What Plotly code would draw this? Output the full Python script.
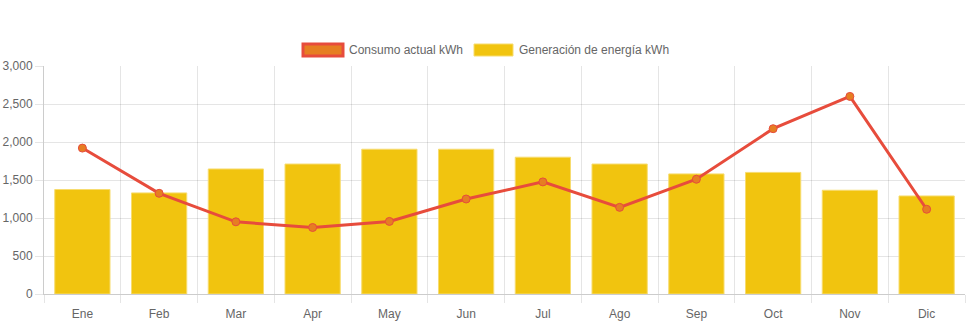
import plotly.graph_objects as go

months = ["Ene", "Feb", "Mar", "Apr", "May", "Jun", "Jul", "Ago", "Sep", "Oct", "Nov", "Dic"]
generacion = [1375, 1330, 1645, 1710, 1905, 1905, 1800, 1710, 1580, 1600, 1365, 1290]
consumo = [1920, 1325, 950, 875, 955, 1250, 1475, 1140, 1510, 2175, 2600, 1115]
label_consumo = "Consumo actual kWh"
label_generacion = "Generación de energía kWh"

W, H = 971, 323
ML, MR, MT, MB = 44, 6, 66, 29
PW, PH = W - ML - MR, H - MT - MB

def px(x):
    return (x - ML) / PW

def py(y):
    return (H - MB - y) / PH

FONT = "Liberation Sans, Arial, Helvetica, sans-serif"
GRID = "rgba(0,0,0,0.1)"

fig = go.Figure()
fig.add_trace(go.Bar(
    x=months, y=generacion, name=label_generacion, width=0.72,
    marker=dict(color="#F1C40F", line=dict(color="#F7DC6F", width=1)),
    showlegend=False,
))
fig.add_trace(go.Scatter(
    x=months, y=consumo, name=label_consumo, mode="lines+markers",
    line=dict(color="#E74C3C", width=3),
    marker=dict(size=8, color="#E67E22", line=dict(color="#E74C3C", width=1)),
    showlegend=False,
))

shapes = [
    dict(type="rect", xref="paper", yref="paper", x0=px(303), x1=px(343), y0=py(56), y1=py(44),
         fillcolor="#E67E22", line=dict(color="#E74C3C", width=3)),
    dict(type="rect", xref="paper", yref="paper", x0=px(474), x1=px(513), y0=py(56), y1=py(44),
         fillcolor="#F1C40F", line=dict(color="#F7DC6F", width=1)),
]
annotations = [
    dict(text=label_consumo, xref="paper", yref="paper", x=px(347), y=py(50), xanchor="left",
         yanchor="middle", showarrow=False, font=dict(family=FONT, size=12, color="#666")),
    dict(text=label_generacion, xref="paper", yref="paper", x=px(517), y=py(50), xanchor="left",
         yanchor="middle", showarrow=False, font=dict(family=FONT, size=12, color="#666")),
]

fig.update_layout(
    width=W, height=H,
    margin=dict(l=ML, r=MR, t=MT, b=MB, pad=0),
    paper_bgcolor="white", plot_bgcolor="white",
    font=dict(family=FONT, size=12, color="#666"),
    shapes=shapes, annotations=annotations,
    showlegend=False,
)
fig.update_xaxes(
    type="category", range=[-0.5, 11.5], tickson="boundaries", automargin=False,
    showgrid=True, gridcolor=GRID, gridwidth=1,
    ticks="outside", ticklen=8, tickcolor=GRID, ticklabelstandoff=9,
    showline=True, linecolor="rgba(0,0,0,0.2)", linewidth=1,
    tickfont=dict(family=FONT, size=12, color="#666"),
)
fig.update_yaxes(
    range=[0, 3000], dtick=500, tickformat=",", automargin=False,
    showgrid=True, gridcolor=GRID, gridwidth=1, zeroline=False,
    ticks="outside", ticklen=8, tickcolor=GRID,
    showline=True, linecolor="rgba(0,0,0,0.2)", linewidth=1,
    tickfont=dict(family=FONT, size=12, color="#666"),
)

fig.write_html("out.html")
